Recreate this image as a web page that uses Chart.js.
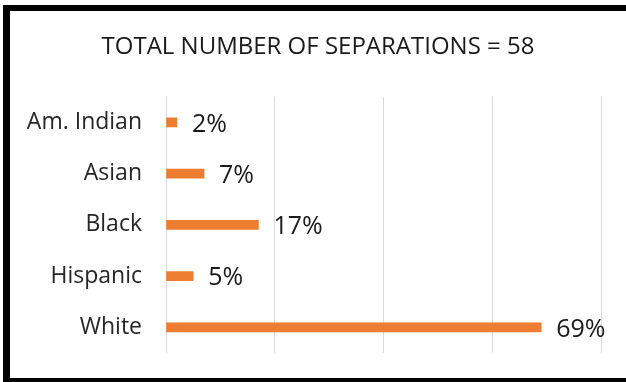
<!DOCTYPE html>
<html>
<head>
<meta charset="utf-8">
<script src="https://cdn.jsdelivr.net/npm/chart.js@4"></script>
<style>
  html, body { margin: 0; padding: 0; background: #fff; }
  body { width: 626px; height: 382px; position: relative; overflow: hidden; }
  #frame {
    position: absolute; left: 3px; top: 5px;
    width: 640px; height: 367px;
    border-left: 7px solid #000; border-top: 6px solid #000; border-bottom: 4px solid #000;
  }
  #wrap { position: absolute; left: 0; top: 0; width: 616px; height: 367px; }
</style>
</head>
<body>
<div id="frame"><div id="wrap"><canvas id="chart"></canvas></div></div>
<script>
// Separations by group, percent of total (58)
const categories = ['Am. Indian', 'Asian', 'Black', 'Hispanic', 'White'];
const percents = [2, 7, 17, 5, 69];
const titleText = 'TOTAL NUMBER OF SEPARATIONS = 58';

const FONT = "'Open Sans', 'Liberation Sans', sans-serif";
const textColor = '#262626';

// Draw the % label just past the end of each bar
const barLabels = {
  id: 'barLabels',
  afterDatasetsDraw(chart) {
    const ctx = chart.ctx;
    const meta = chart.getDatasetMeta(0);
    ctx.save();
    ctx.font = '25px ' + FONT;
    ctx.fillStyle = '#1a1a1a';
    ctx.textAlign = 'left';
    ctx.textBaseline = 'middle';
    meta.data.forEach((bar, i) => {
      ctx.fillText(percents[i] + '%', bar.x + 15, bar.y + 2);
    });
    ctx.restore();
  }
};

const ctx = document.getElementById('chart').getContext('2d');
new Chart(ctx, {
  type: 'bar',
  data: {
    labels: categories,
    datasets: [{
      data: percents,
      backgroundColor: '#ED7D31',
      barThickness: 9
    }]
  },
  options: {
    indexAxis: 'y',
    responsive: true,
    maintainAspectRatio: false,
    animation: false,
    layout: { padding: 0 },
    plugins: {
      legend: { display: false },
      tooltip: { enabled: false },
      title: {
        display: true,
        text: titleText,
        color: '#1a1a1a',
        font: { family: FONT, size: 24, weight: 'normal' },
        padding: { top: 22, bottom: 35 }
      }
    },
    scales: {
      x: {
        min: 0, max: 80,
        ticks: { display: false, stepSize: 20 },
        grid: { color: '#d9d9d9', drawTicks: false },
        border: { display: false },
        afterFit: scale => { scale.height = 25; scale.paddingLeft = 0; scale.paddingRight = 0; }
      },
      y: {
        ticks: { color: textColor, font: { family: FONT, size: 23 }, padding: 24 },
        grid: { display: false, drawTicks: false },
        border: { display: false },
        afterFit: scale => { scale.width = 156; scale.paddingTop = 0; scale.paddingBottom = 0; }
      },
      // empty right-hand axis, only reserves the blank strip right of the plot
      yRight: {
        type: 'category',
        position: 'right',
        labels: categories,
        ticks: { display: false },
        grid: { display: false, drawTicks: false },
        border: { display: false },
        afterFit: scale => { scale.width = 25; scale.paddingTop = 0; scale.paddingBottom = 0; }
      }
    }
  },
  plugins: [barLabels]
});
</script>
</body>
</html>
